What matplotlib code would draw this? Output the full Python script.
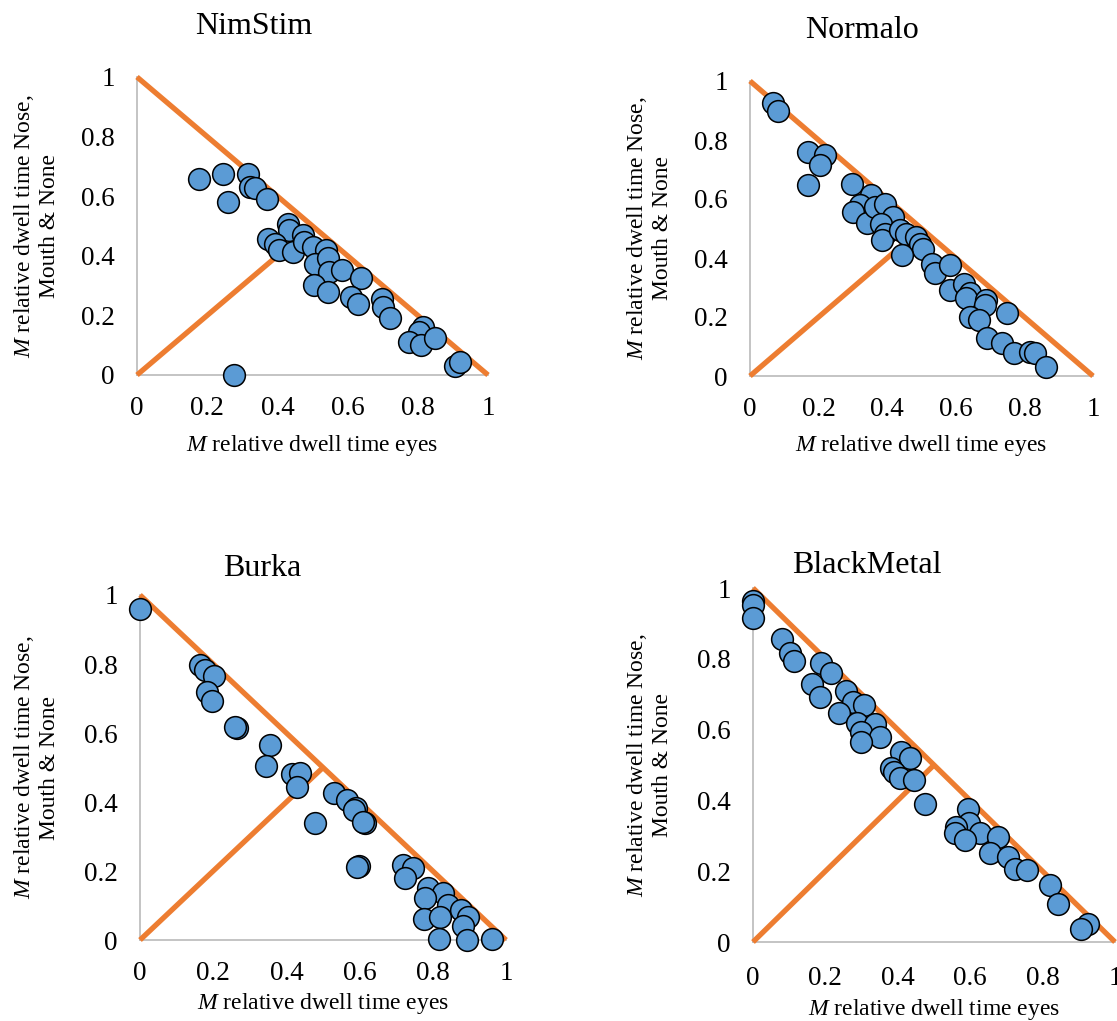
import numpy as np
import matplotlib
matplotlib.use("Agg")
import matplotlib.pyplot as plt

plt.rcParams["font.family"] = ["Liberation Serif", "DejaVu Serif"]
plt.rcParams["mathtext.fontset"] = "custom"
plt.rcParams["mathtext.rm"] = "Liberation Serif"
plt.rcParams["mathtext.it"] = "Liberation Serif:italic"

W, H = 1117, 1021
ORANGE = "#ED7D31"
BLUE = "#5B9BD5"
AXIS_GREY = "#BFBFBF"

# mean relative dwell time per participant
nimstim_eyes = [0.177, 0.245, 0.316, 0.322, 0.336, 0.258, 0.370, 0.277, 0.431, 0.434,
                0.372, 0.392, 0.405, 0.444, 0.474, 0.477, 0.502, 0.538, 0.507, 0.545,
                0.548, 0.585, 0.504, 0.543, 0.637, 0.611, 0.630, 0.697, 0.701, 0.722,
                0.815, 0.804, 0.775, 0.810, 0.848, 0.905, 0.919]
nimstim_other = [0.657, 0.676, 0.673, 0.631, 0.626, 0.581, 0.589, 0.000, 0.508, 0.486,
                 0.456, 0.438, 0.419, 0.413, 0.469, 0.445, 0.430, 0.419, 0.372, 0.391,
                 0.346, 0.354, 0.302, 0.277, 0.324, 0.263, 0.237, 0.254, 0.229, 0.190,
                 0.162, 0.145, 0.112, 0.101, 0.125, 0.030, 0.045]

normalo_eyes = [0.068, 0.081, 0.170, 0.218, 0.204, 0.170, 0.296, 0.354, 0.320, 0.301,
                0.340, 0.364, 0.393, 0.417, 0.383, 0.395, 0.386, 0.437, 0.456, 0.485,
                0.495, 0.503, 0.444, 0.532, 0.539, 0.584, 0.583, 0.623, 0.641, 0.631,
                0.689, 0.684, 0.641, 0.668, 0.748, 0.691, 0.736, 0.769, 0.816, 0.830,
                0.862]
normalo_other = [0.925, 0.898, 0.760, 0.748, 0.714, 0.647, 0.650, 0.613, 0.579, 0.556,
                 0.517, 0.573, 0.582, 0.540, 0.514, 0.483, 0.460, 0.494, 0.483, 0.472,
                 0.449, 0.432, 0.410, 0.379, 0.348, 0.376, 0.291, 0.312, 0.280, 0.263,
                 0.257, 0.240, 0.201, 0.190, 0.212, 0.128, 0.113, 0.079, 0.082, 0.077,
                 0.032]

burka_eyes = [0.000, 0.164, 0.178, 0.202, 0.182, 0.196, 0.266, 0.260, 0.355, 0.344,
              0.414, 0.437, 0.428, 0.531, 0.565, 0.589, 0.585, 0.615, 0.610, 0.478,
              0.597, 0.592, 0.719, 0.745, 0.724, 0.788, 0.829, 0.779, 0.776, 0.842,
              0.820, 0.877, 0.897, 0.883, 0.818, 0.894, 0.963]
burka_other = [0.958, 0.797, 0.783, 0.765, 0.720, 0.694, 0.614, 0.618, 0.565, 0.505,
               0.481, 0.485, 0.443, 0.427, 0.406, 0.384, 0.377, 0.338, 0.343, 0.340,
               0.215, 0.213, 0.217, 0.208, 0.179, 0.150, 0.137, 0.121, 0.060, 0.101,
               0.068, 0.087, 0.068, 0.041, 0.002, 0.000, 0.002]

blackmetal_eyes = [0.000, 0.000, 0.000, 0.081, 0.101, 0.112, 0.187, 0.215, 0.164, 0.184,
                   0.258, 0.276, 0.306, 0.238, 0.288, 0.336, 0.297, 0.352, 0.297, 0.410,
                   0.433, 0.382, 0.389, 0.406, 0.444, 0.475, 0.594, 0.597, 0.627, 0.562,
                   0.558, 0.585, 0.677, 0.654, 0.705, 0.724, 0.756, 0.820, 0.843, 0.926,
                   0.905]
blackmetal_other = [0.962, 0.953, 0.915, 0.857, 0.816, 0.795, 0.788, 0.761, 0.728, 0.693,
                    0.708, 0.679, 0.670, 0.646, 0.620, 0.616, 0.594, 0.580, 0.566, 0.538,
                    0.521, 0.491, 0.481, 0.464, 0.458, 0.389, 0.375, 0.335, 0.307, 0.324,
                    0.307, 0.288, 0.297, 0.252, 0.239, 0.206, 0.203, 0.162, 0.106, 0.052,
                    0.036]

titles = ["NimStim", "Normalo", "Burka", "BlackMetal"]
series = [(nimstim_eyes, nimstim_other), (normalo_eyes, normalo_other),
          (burka_eyes, burka_other), (blackmetal_eyes, blackmetal_other)]
ticks = [0, 0.2, 0.4, 0.6, 0.8, 1]
tick_labels = ["0", "0.2", "0.4", "0.6", "0.8", "1"]

# reference lines: x + y = 1 and the diagonal up to (0.5, 0.5)
sum_line_x, sum_line_y = [0, 1], [1, 0]
diag_x, diag_y = [0, 0.5], [0, 0.5]

# layout in pixels: axes box (left, right, top=1, bottom=0), title pos, label pos
layout = [
    dict(box=(137, 488, 77, 375), title=(254, 27), ylab=36, xlab=445, xpad=15),
    dict(box=(750, 1093, 81, 376), title=(862, 30), ylab=649, xlab=445, xpad=15),
    dict(box=(140, 506, 595, 940), title=(262, 568), ylab=36, xlab=1003, xpad=15),
    dict(box=(753, 1115, 588, 942), title=(867, 565), ylab=649, xlab=1009, xpad=17),
]

fig = plt.figure(figsize=(W / 100, H / 100), dpi=100)

for name, (xs, ys), lay in zip(titles, series, layout):
    x0, x1, yt, yb = lay["box"]
    ax = fig.add_axes([x0 / W, 1 - yb / H, (x1 - x0) / W, (yb - yt) / H])
    ax.set_xlim(0, 1)
    ax.set_ylim(0, 1)
    ax.plot(sum_line_x, sum_line_y, color=ORANGE, lw=3.8, solid_capstyle="butt",
            clip_on=False, zorder=2)
    ax.plot(diag_x, diag_y, color=ORANGE, lw=3.8, solid_capstyle="butt",
            clip_on=False, zorder=2)
    ax.scatter(xs, ys, s=245, color=BLUE, edgecolor="black", linewidth=1.1,
               clip_on=False, zorder=3)
    for side in ("top", "right"):
        ax.spines[side].set_visible(False)
    for side in ("left", "bottom"):
        ax.spines[side].set_color(AXIS_GREY)
        ax.spines[side].set_linewidth(1.3)
        ax.spines[side].set_zorder(1)
    ax.set_xticks(ticks)
    ax.set_xticklabels(tick_labels)
    ax.set_yticks(ticks)
    ax.set_yticklabels(tick_labels)
    ax.tick_params(axis="x", length=0, pad=lay["xpad"], labelsize=19.5)
    ax.tick_params(axis="y", length=0, pad=16, labelsize=19.5)
    ax.patch.set_visible(False)

    fig.text(lay["title"][0] / W, 1 - lay["title"][1] / H, name,
             ha="center", va="center", fontsize=23)
    fig.text((x0 + x1) / 2 / W, 1 - lay["xlab"] / H,
             r"$\mathit{M}$ relative dwell time eyes",
             ha="center", va="center", fontsize=17)
    fig.text(lay["ylab"] / W, 1 - (yt + yb) / 2 / H,
             "$\\mathit{M}$ relative dwell time Nose,\nMouth & None",
             ha="center", va="center", rotation=90, fontsize=17,
             multialignment="center", linespacing=1.15)

fig.savefig("out.png", dpi=100)
